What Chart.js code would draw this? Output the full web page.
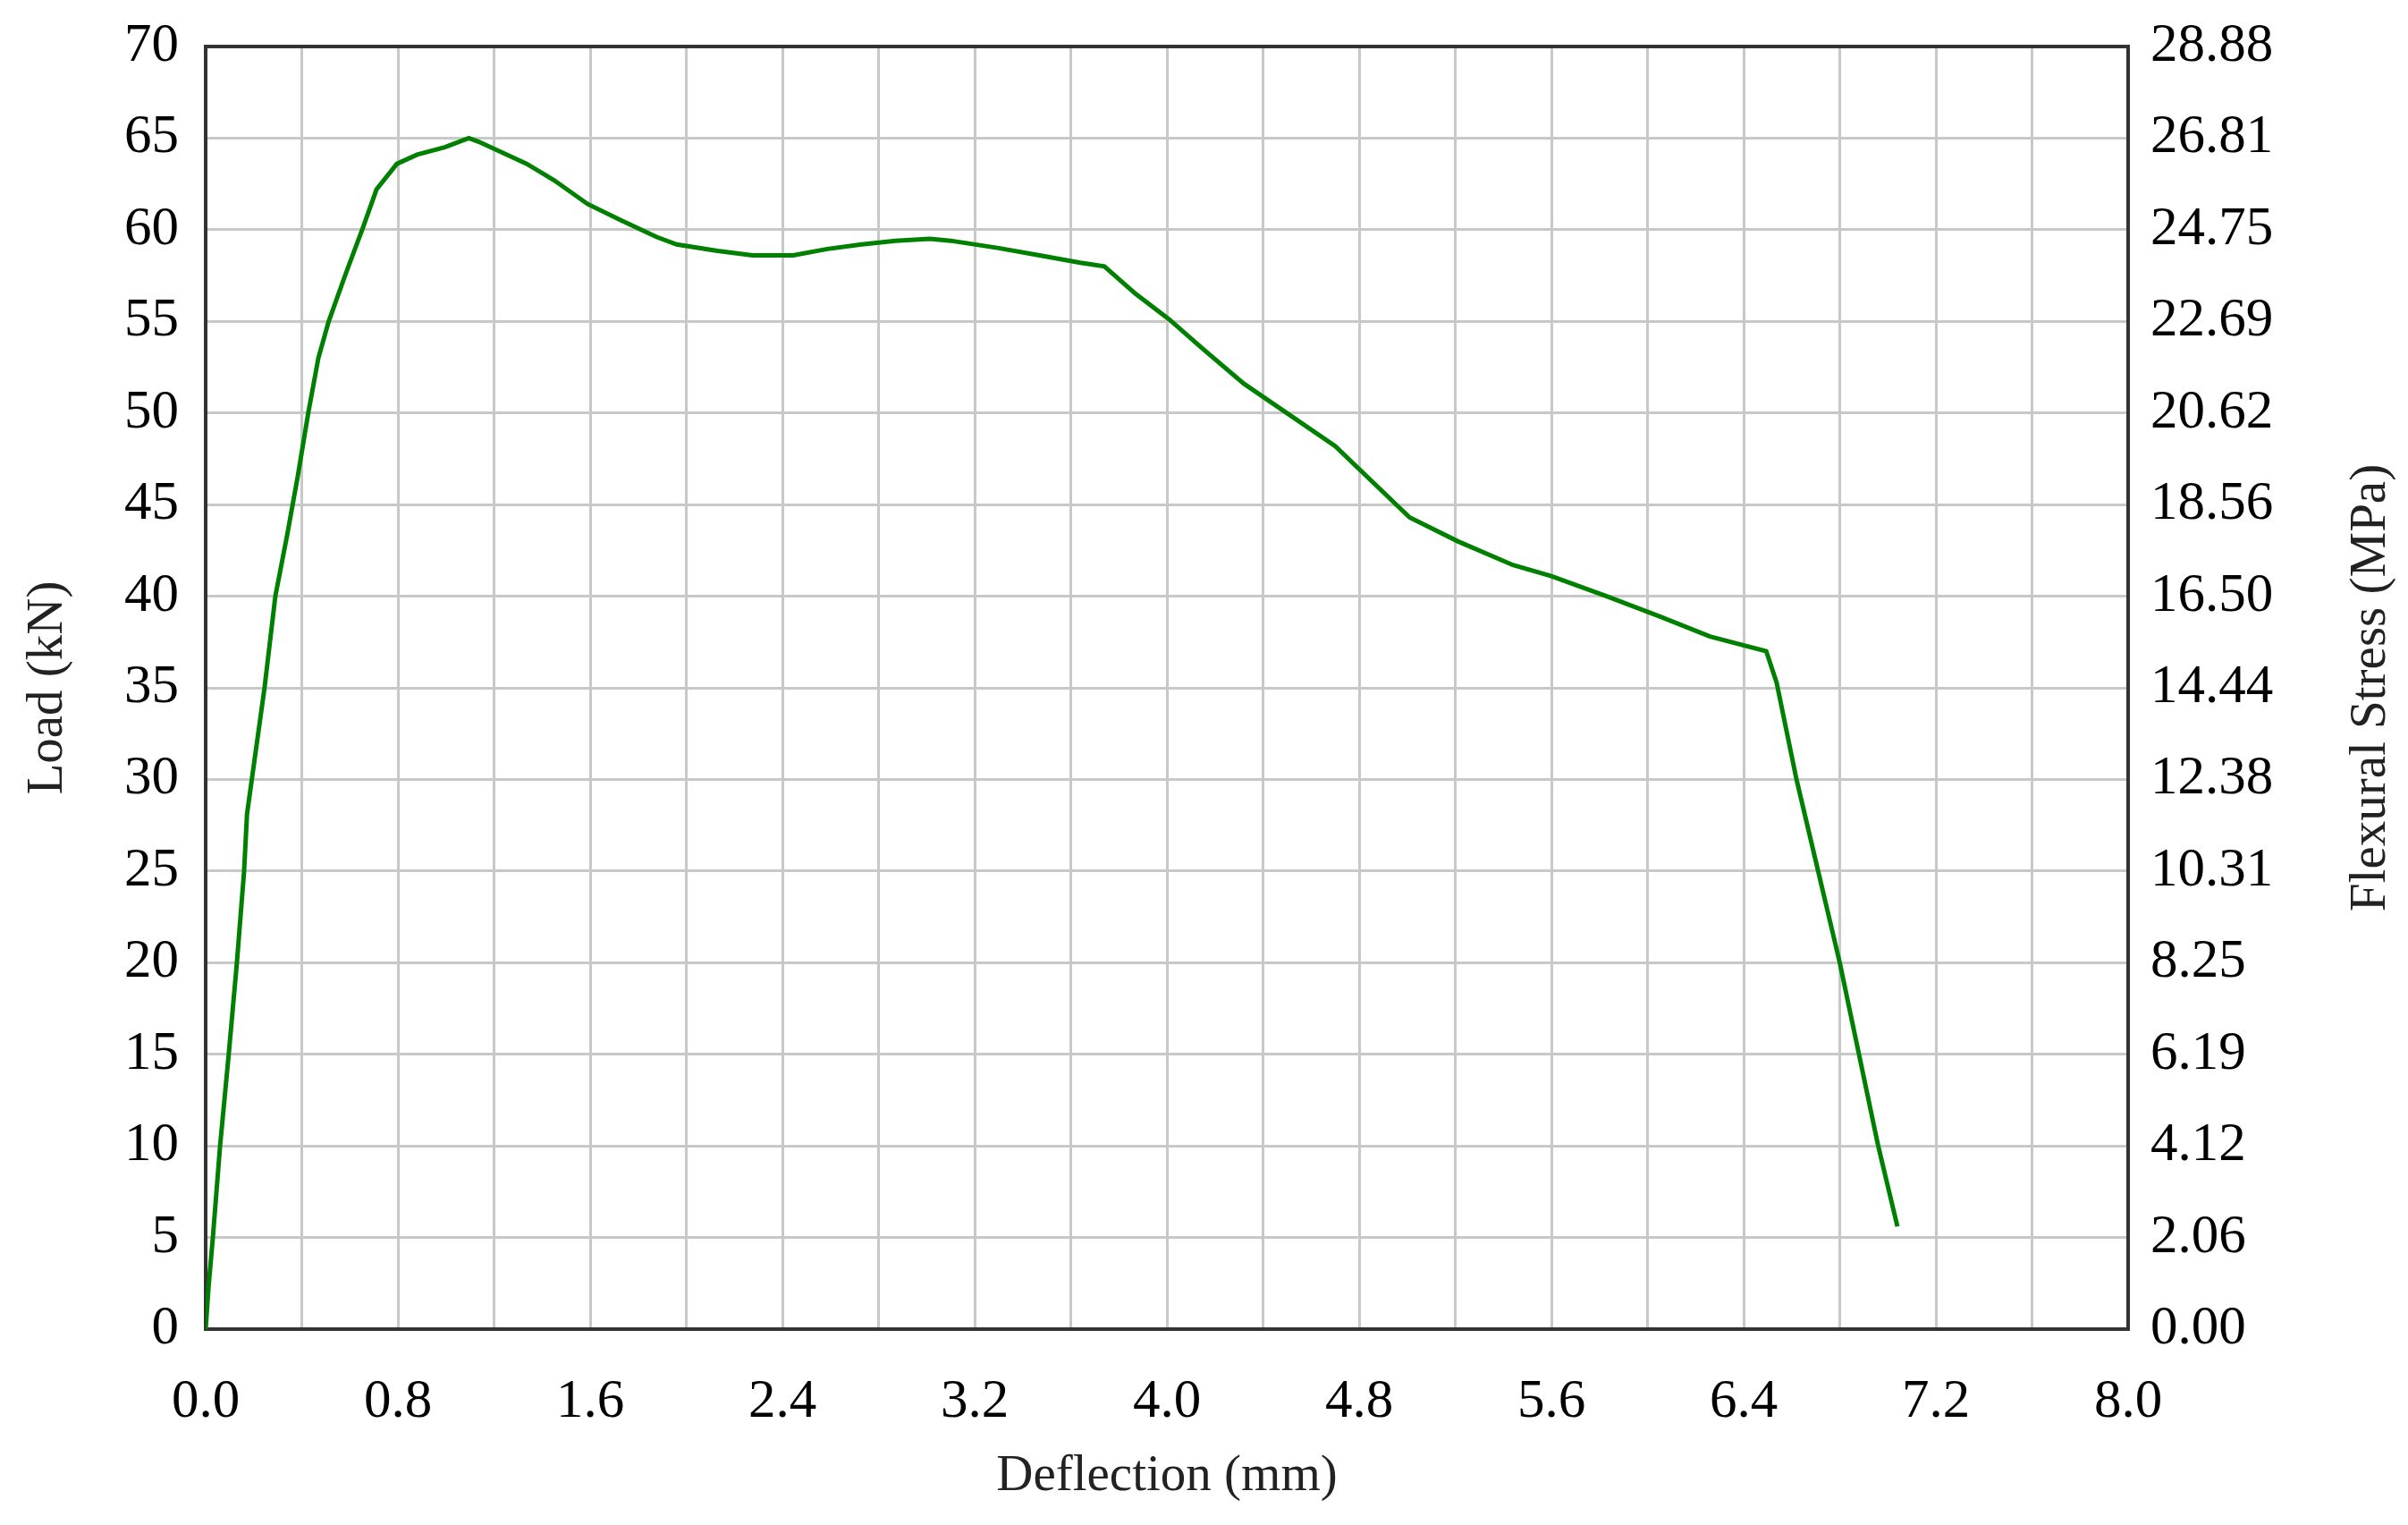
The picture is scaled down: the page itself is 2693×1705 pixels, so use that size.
<!DOCTYPE html>
<html>
<head>
<meta charset="utf-8">
<script src="https://cdn.jsdelivr.net/npm/chart.js@4.4.1/dist/chart.umd.min.js"></script>
<style>
  html, body { margin: 0; padding: 0; background: #fff; }
</style>
</head>
<body>
<canvas id="flex-chart" width="2693" height="1705"></canvas>
<script>
// deflection (mm) vs load (kN)
const deflection = [0, 0.012, 0.03, 0.06, 0.096, 0.13, 0.16, 0.172, 0.245, 0.29, 0.34, 0.384, 0.427, 0.469, 0.512,
  0.583, 0.654, 0.711, 0.796, 0.88, 0.995, 1.095, 1.137, 1.336, 1.45, 1.59, 1.73, 1.877, 1.96, 2.13, 2.276,
  2.445, 2.587, 2.73, 2.87, 3.014, 3.1, 3.3, 3.47, 3.64, 3.74, 3.87, 4.01, 4.15, 4.32, 4.7, 5.01, 5.21, 5.44,
  5.6, 5.83, 6.05, 6.26, 6.494, 6.537, 6.62, 6.71, 6.8, 6.88, 6.96, 7.04];
const load = [0, 2.3, 5, 10, 15, 20, 25, 28.1, 35, 40, 43.4, 46.6, 50, 53, 55,
  57.6, 60.1, 62.2, 63.6, 64.1, 64.5, 65, 64.8, 63.6, 62.7, 61.4, 60.5, 59.6, 59.2, 58.85, 58.6,
  58.6, 58.95, 59.2, 59.4, 59.5, 59.4, 59.0, 58.6, 58.2, 58.0, 56.5, 55.1, 53.5, 51.6, 48.2, 44.3, 43.0, 41.7,
  41.1, 40.0, 38.9, 37.8, 37.0, 35.3, 30, 25, 20, 15, 10, 5.6];

const xTickLabels = ['0.0', '0.8', '1.6', '2.4', '3.2', '4.0', '4.8', '5.6', '6.4', '7.2', '8.0'];
const stressTickLabels = ['0.00', '2.06', '4.12', '6.19', '8.25', '10.31', '12.38', '14.44', '16.50',
  '18.56', '20.62', '22.69', '24.75', '26.81', '28.88'];

const points = deflection.map((d, i) => ({ x: d, y: load[i] }));

const serif = 'Liberation Serif, Times New Roman, serif';
const tickFont = { family: serif, size: 61 };
const titleFont = { family: serif, size: 57 };

// frame round the plot area, drawn under the curve
const framePlugin = {
  id: 'frame',
  beforeDatasetsDraw(chart) {
    const { ctx, chartArea: a } = chart;
    ctx.save();
    ctx.strokeStyle = '#333';
    ctx.lineWidth = 4;
    ctx.strokeRect(a.left, a.top, a.right - a.left, a.bottom - a.top);
    ctx.restore();
  }
};

// right axis title reads bottom to top, like the left one
const rightTitlePlugin = {
  id: 'rightTitle',
  afterDraw(chart) {
    const { ctx, chartArea: a } = chart;
    ctx.save();
    ctx.translate(2652, (a.top + a.bottom) / 2);
    ctx.rotate(-Math.PI / 2);
    ctx.font = '57px ' + serif;
    ctx.fillStyle = '#222';
    ctx.textAlign = 'center';
    ctx.textBaseline = 'middle';
    ctx.fillText('Flexural Stress (MPa)', 0, 0);
    ctx.restore();
  }
};

const fixY = w => s => { s.width = w; s.paddingTop = 0; s.paddingBottom = 0; };

new Chart(document.getElementById('flex-chart'), {
  type: 'scatter',
  data: {
    datasets: [{
      label: 'Load',
      data: points,
      showLine: true,
      borderColor: '#008000',
      borderWidth: 5,
      pointRadius: 0,
      tension: 0,
      yAxisID: 'y'
    }]
  },
  options: {
    responsive: false,
    animation: false,
    layout: { padding: { top: 52, left: 0, right: 0, bottom: 0 } },
    plugins: { legend: { display: false }, tooltip: { enabled: false } },
    scales: {
      x: {
        type: 'linear',
        min: 0,
        max: 8,
        afterFit: s => { s.height = 219; },
        grid: { color: '#c8c8c8', lineWidth: 3, drawTicks: false },
        border: { display: false },
        ticks: {
          stepSize: 0.4,
          autoSkip: false,
          maxRotation: 0,
          padding: 45,
          color: '#000',
          font: tickFont,
          callback: (v, i) => (i % 2 === 0 ? xTickLabels[i / 2] : '')
        },
        title: { display: true, text: 'Deflection (mm)', color: '#222', font: titleFont, padding: { top: 0, bottom: 20 } }
      },
      y: {
        position: 'left',
        min: 0,
        max: 70,
        afterFit: fixY(230),
        grid: { color: '#c8c8c8', lineWidth: 3, drawTicks: false },
        border: { display: false },
        ticks: { stepSize: 5, padding: 30, color: '#000', font: tickFont },
        title: { display: true, text: 'Load (kN)', color: '#222', font: titleFont, padding: { top: 20, bottom: 0 } }
      },
      y2: {
        position: 'right',
        min: 0,
        max: 70,
        afterFit: fixY(313),
        grid: { display: false, drawTicks: false },
        border: { display: false },
        ticks: {
          stepSize: 5,
          padding: 25,
          color: '#000',
          font: tickFont,
          callback: (v, i) => stressTickLabels[i]
        }
      }
    }
  },
  plugins: [framePlugin, rightTitlePlugin]
});
</script>
</body>
</html>
